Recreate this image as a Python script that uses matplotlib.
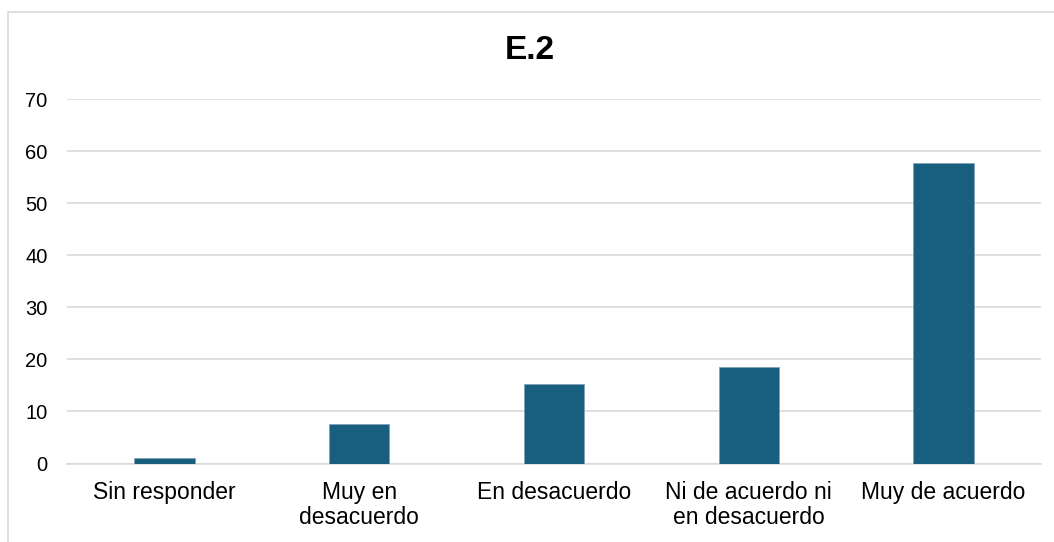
import numpy as np
import matplotlib
matplotlib.use('Agg')
import matplotlib.pyplot as plt
from matplotlib.patches import Rectangle

# chart data
categories = ['Sin responder', 'Muy en\ndesacuerdo', 'En desacuerdo',
              'Ni de acuerdo ni\nen desacuerdo', 'Muy de acuerdo']
values = [1.1, 7.6, 15.2, 18.5, 57.7]
yticks = [0, 10, 20, 30, 40, 50, 60, 70]
title = 'E.2'

plt.rcParams['font.family'] = ['Liberation Sans', 'DejaVu Sans']

fig = plt.figure(figsize=(10.54, 5.42), dpi=100)
ax = fig.add_axes([0.0636, 0.1448, 0.9241, 0.6725])

# outer chart border
fig.patches.append(Rectangle((8 / 1054, -0.01), 1.1, 1 - 12.5 / 542 + 0.01,
                             transform=fig.transFigure, fill=False,
                             edgecolor='#d9d9d9', linewidth=1.2))

x = np.arange(len(categories))
ax.bar(x, values, width=0.31, color='#175e7f', edgecolor='#7fa3b5',
       linewidth=0.6, zorder=3)

ax.set_xlim(-0.5, len(categories) - 0.5)
ax.set_ylim(0, 70)
ax.set_yticks(yticks)
ax.set_xticks(x)
ax.set_xticklabels(categories, fontsize=16.5, color='#000000', linespacing=1.1)
ax.tick_params(axis='y', labelsize=14.5, colors='#000000', length=0, pad=14)
ax.tick_params(axis='x', length=0, pad=12.5)
ax.yaxis.grid(True, color='#d9d9d9', linewidth=1.2, zorder=0)
for s in ['top', 'right', 'left']:
    ax.spines[s].set_visible(False)
ax.spines['bottom'].set_color('#d9d9d9')
ax.spines['bottom'].set_linewidth(1.2)

fig.text(0.503, 1 - 51 / 542, title, fontsize=24, fontweight='bold',
         ha='center', va='center', color='#000000')

fig.savefig('out.png', dpi=100)
